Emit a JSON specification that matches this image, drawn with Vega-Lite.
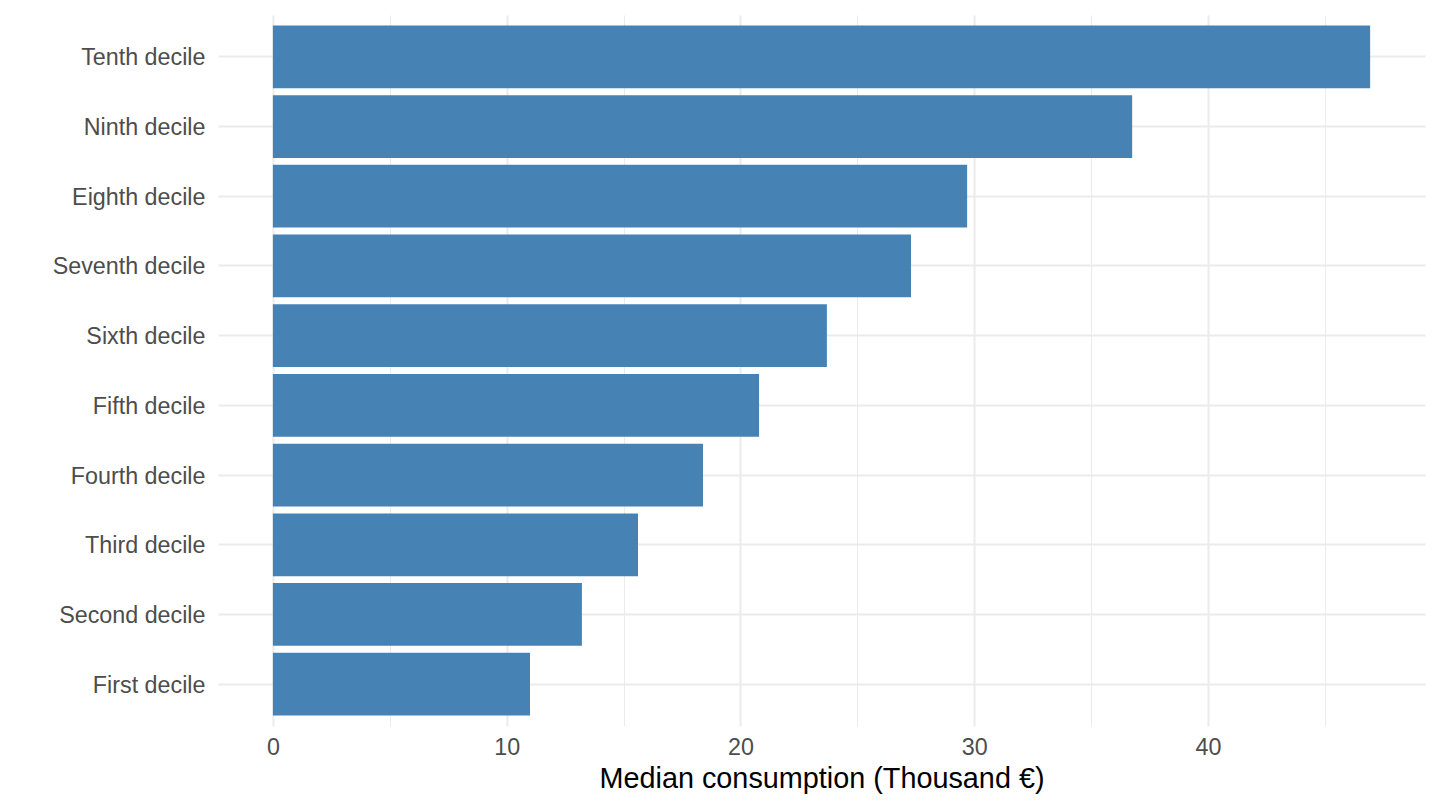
{
  "$schema": "https://vega.github.io/schema/vega-lite/v6.json",
  "width": 1207,
  "height": 711,
  "autosize": {"type": "none"},
  "padding": {"left": 218, "top": 15, "right": 15, "bottom": 84},
  "background": "white",
  "data": {
    "values": [
      {"decile": "First decile", "consumption": 11.0},
      {"decile": "Second decile", "consumption": 13.22},
      {"decile": "Third decile", "consumption": 15.62},
      {"decile": "Fourth decile", "consumption": 18.4},
      {"decile": "Fifth decile", "consumption": 20.8},
      {"decile": "Sixth decile", "consumption": 23.7},
      {"decile": "Seventh decile", "consumption": 27.3},
      {"decile": "Eighth decile", "consumption": 29.7},
      {"decile": "Ninth decile", "consumption": 36.76},
      {"decile": "Tenth decile", "consumption": 46.94}
    ]
  },
  "mark": {"type": "bar", "color": "#4682B4"},
  "encoding": {
    "y": {
      "field": "decile",
      "type": "nominal",
      "sort": ["Tenth decile", "Ninth decile", "Eighth decile", "Seventh decile", "Sixth decile",
               "Fifth decile", "Fourth decile", "Third decile", "Second decile", "First decile"],
      "scale": {"paddingInner": 0.1, "paddingOuter": 0.15},
      "axis": {
        "title": null,
        "ticks": false,
        "domain": false,
        "grid": true,
        "bandPosition": 0.5,
        "labelPadding": 13,
        "labelOffset": 1.5,
        "labelFontSize": 23.3,
        "labelColor": "#4D4D4D",
        "gridColor": "#EBEBEB",
        "gridWidth": 2
      }
    },
    "x": {
      "field": "consumption",
      "type": "quantitative",
      "scale": {"domain": [-2.347, 49.287], "nice": false, "zero": false},
      "axis": {
        "title": "Median consumption (Thousand €)",
        "values": [0, 5, 10, 15, 20, 25, 30, 35, 40, 45],
        "labelExpr": "datum.value % 10 === 0 ? datum.label : ''",
        "ticks": false,
        "domain": false,
        "labelPadding": 10,
        "labelFontSize": 23.3,
        "labelColor": "#4D4D4D",
        "titleFontSize": 28.8,
        "titleFontWeight": "normal",
        "titleColor": "#000000",
        "titlePadding": 6,
        "gridColor": "#EBEBEB",
        "gridWidth": {"condition": {"test": "datum.value % 10 === 0", "value": 2}, "value": 1}
      }
    }
  },
  "config": {
    "font": "Liberation Sans",
    "view": {"stroke": null},
    "axis": {"labelFont": "Liberation Sans", "titleFont": "Liberation Sans"}
  }
}
